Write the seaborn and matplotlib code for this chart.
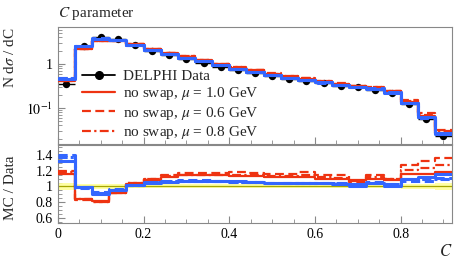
import matplotlib
matplotlib.use("Agg")
import matplotlib.pyplot as plt
import matplotlib.ticker as mticker
from matplotlib.lines import Line2D
import numpy as np
import pandas as pd
import seaborn as sns

# C parameter bins (width 0.04)
edges = [0.00, 0.04, 0.08, 0.12, 0.16, 0.20, 0.24, 0.28, 0.32, 0.36, 0.40, 0.44,
         0.48, 0.52, 0.56, 0.60, 0.64, 0.68, 0.72, 0.76, 0.80, 0.84, 0.88, 0.92]

data_vals = [0.35, 2.6, 4.1, 3.7, 2.7, 2.0, 1.57, 1.29, 1.07, 0.87, 0.73, 0.63,
             0.53, 0.46, 0.41, 0.36, 0.32, 0.295, 0.26, 0.22, 0.12, 0.056, 0.023]
data_relerr = [0.04, 0.03, 0.03, 0.03, 0.025, 0.025, 0.025, 0.025, 0.025, 0.025, 0.025, 0.025,
               0.025, 0.025, 0.025, 0.025, 0.025, 0.025, 0.025, 0.025, 0.03, 0.035, 0.045]

# MC / Data ratios
red_mu10 = [1.16, 0.84, 0.81, 0.92, 1.03, 1.08, 1.12, 1.14, 1.14, 1.14, 1.13, 1.13,
            1.12, 1.12, 1.12, 1.10, 1.09, 1.08, 1.09, 1.08, 1.16, 1.16, 1.18]
red_mu06 = [1.20, 0.83, 0.80, 0.91, 1.04, 1.10, 1.14, 1.17, 1.17, 1.17, 1.18, 1.17,
            1.16, 1.16, 1.18, 1.15, 1.14, 1.06, 1.14, 1.10, 1.27, 1.33, 1.37]
red_mu08 = [1.18, 0.84, 0.80, 0.91, 1.04, 1.09, 1.13, 1.15, 1.15, 1.15, 1.15, 1.14,
            1.13, 1.13, 1.14, 1.12, 1.11, 1.07, 1.12, 1.09, 1.21, 1.24, 1.27]
blue_solid = [1.32, 0.99, 0.90, 0.96, 1.02, 1.05, 1.06, 1.07, 1.07, 1.07, 1.07, 1.06,
              1.05, 1.05, 1.05, 1.05, 1.03, 1.01, 1.05, 1.01, 1.10, 1.12, 1.16]
blue_dashed = [1.40, 0.98, 0.93, 0.97, 1.02, 1.06, 1.07, 1.08, 1.08, 1.07, 1.06, 1.06,
               1.05, 1.05, 1.05, 1.04, 1.04, 1.03, 1.06, 1.03, 1.07, 1.07, 1.11]
blue_dashdot = [1.38, 0.99, 0.92, 0.96, 1.02, 1.06, 1.07, 1.07, 1.07, 1.07, 1.06, 1.06,
                1.05, 1.05, 1.05, 1.05, 1.04, 1.03, 1.05, 1.03, 1.09, 1.10, 1.10]

RED = "#EE3311"
BLUE = "#3366FF"
GRAY = "#888888"

sns.set_theme(style="ticks")
plt.rcParams.update({
    "font.family": ["Liberation Serif", "DejaVu Serif"],
    "mathtext.fontset": "stix",
    "font.size": 10,
    "axes.edgecolor": GRAY,
    "axes.linewidth": 0.8,
    "xtick.direction": "in",
    "ytick.direction": "in",
    "xtick.color": GRAY,
    "ytick.color": GRAY,
    "xtick.labelcolor": "black",
    "ytick.labelcolor": "black",
    "xtick.labelsize": 10,
    "ytick.labelsize": 10,
})

series = [
    ("no swap, $\\mu$ = 1.0 GeV", red_mu10, RED, "-", 1.6, True),
    ("no swap, $\\mu$ = 0.6 GeV", red_mu06, RED, (0, (4, 2)), 1.6, True),
    ("no swap, $\\mu$ = 0.8 GeV", red_mu08, RED, (0, (4, 1.5, 1, 1.5)), 1.6, True),
    ("blue solid", blue_solid, BLUE, "-", 2.2, False),
    ("blue dashed", blue_dashed, BLUE, (0, (3, 1.5)), 2.2, False),
    ("blue dashdot", blue_dashdot, BLUE, (0, (3, 1, 1, 1)), 2.2, False),
]

edges_a = np.asarray(edges)
centers = (edges_a[:-1] + edges_a[1:]) / 2
halfw = (edges_a[1:] - edges_a[:-1]) / 2
data_a = np.asarray(data_vals)
relerr = np.asarray(data_relerr)

fig = plt.figure(figsize=(4.67, 2.64), dpi=100)
ax = fig.add_axes([0.124, 0.4545, 0.844, 0.443])
rax = fig.add_axes([0.124, 0.155, 0.844, 0.2955], sharex=ax)

# data points
ax.errorbar(centers, data_a, xerr=halfw, yerr=data_a * relerr, fmt="none",
            ecolor="black", elinewidth=1.0, zorder=2)
sns.scatterplot(x=centers, y=data_a, color="black", s=28, edgecolor="black",
                linewidth=0, ax=ax, zorder=2, legend=False)

for label, ratio, color, ls, lw, _ in series:
    mc = data_a * np.asarray(ratio)
    df = pd.DataFrame({"x": edges_a, "y": np.append(mc, mc[-1])})
    sns.lineplot(data=df, x="x", y="y", drawstyle="steps-post", color=color,
                 linestyle=ls, linewidth=lw, estimator=None, ax=ax, zorder=3)
    rdf = pd.DataFrame({"x": edges_a, "y": np.append(ratio, ratio[-1])})
    sns.lineplot(data=rdf, x="x", y="y", drawstyle="steps-post", color=color,
                 linestyle=ls, linewidth=lw, estimator=None, ax=rax, zorder=3)

# data uncertainty band in the ratio
rax.stairs(1 + relerr, edges_a, baseline=1 - relerr, fill=True,
           color="#ffff99", alpha=0.9, linewidth=0, zorder=1)
rax.axhline(1.0, color="#a6a600", linewidth=0.9, zorder=2)

ax.set_yscale("log")
ax.set_ylim(0.015, 6.9)
ax.set_xlim(0, 0.92)
ax.set_yticks([0.1, 1])
ax.set_yticklabels(["$10^{-1}$", "1"])
ax.yaxis.set_minor_locator(mticker.LogLocator(base=10, subs=np.arange(2, 10)))
ax.yaxis.set_minor_formatter(mticker.NullFormatter())
ax.tick_params(axis="x", labelbottom=False)
ax.set_xlabel("")
ax.set_ylabel("N d$\\sigma$ / dC", loc="top", fontsize=11)
ax.yaxis.set_label_coords(-0.105, 1.0)

rax.set_ylim(0.53, 1.53)
rax.set_yticks([0.6, 0.8, 1.0, 1.2, 1.4])
rax.set_yticklabels(["0.6", "0.8", "1", "1.2", "1.4"])
rax.yaxis.set_minor_locator(mticker.MultipleLocator(0.05))
rax.xaxis.set_minor_locator(mticker.MultipleLocator(0.05))
rax.set_xticks([0, 0.2, 0.4, 0.6, 0.8])
rax.set_xticklabels(["0", "0.2", "0.4", "0.6", "0.8"])
rax.set_ylabel("MC / Data", fontsize=11)
rax.yaxis.set_label_coords(-0.105, 0.45)
rax.set_xlabel("$C$", loc="right", fontsize=12, labelpad=2)

for a in (ax, rax):
    for s in a.spines.values():
        s.set_visible(True)
        s.set_color(GRAY)
    a.tick_params(which="major", length=5, width=0.8)
    a.tick_params(which="minor", length=3, width=0.6)

handles = [Line2D([], [], color="black", marker="o", markersize=5.5, linewidth=1.3)]
labels = ["DELPHI Data"]
for label, ratio, color, ls, lw, show in series:
    if show:
        handles.append(Line2D([], [], color=color, linestyle=ls, linewidth=lw))
        labels.append(label)
ax.legend(handles, labels, loc="upper left", bbox_to_anchor=(0.045, 0.69),
          frameon=False, fontsize=11, handlelength=2.2, handletextpad=0.5,
          labelspacing=0.15, borderaxespad=0)

fig.text(0.124, 1 - 13 / 264, "$C$ parameter", fontsize=11, va="center", ha="left")

fig.savefig("out.png", dpi=100)
